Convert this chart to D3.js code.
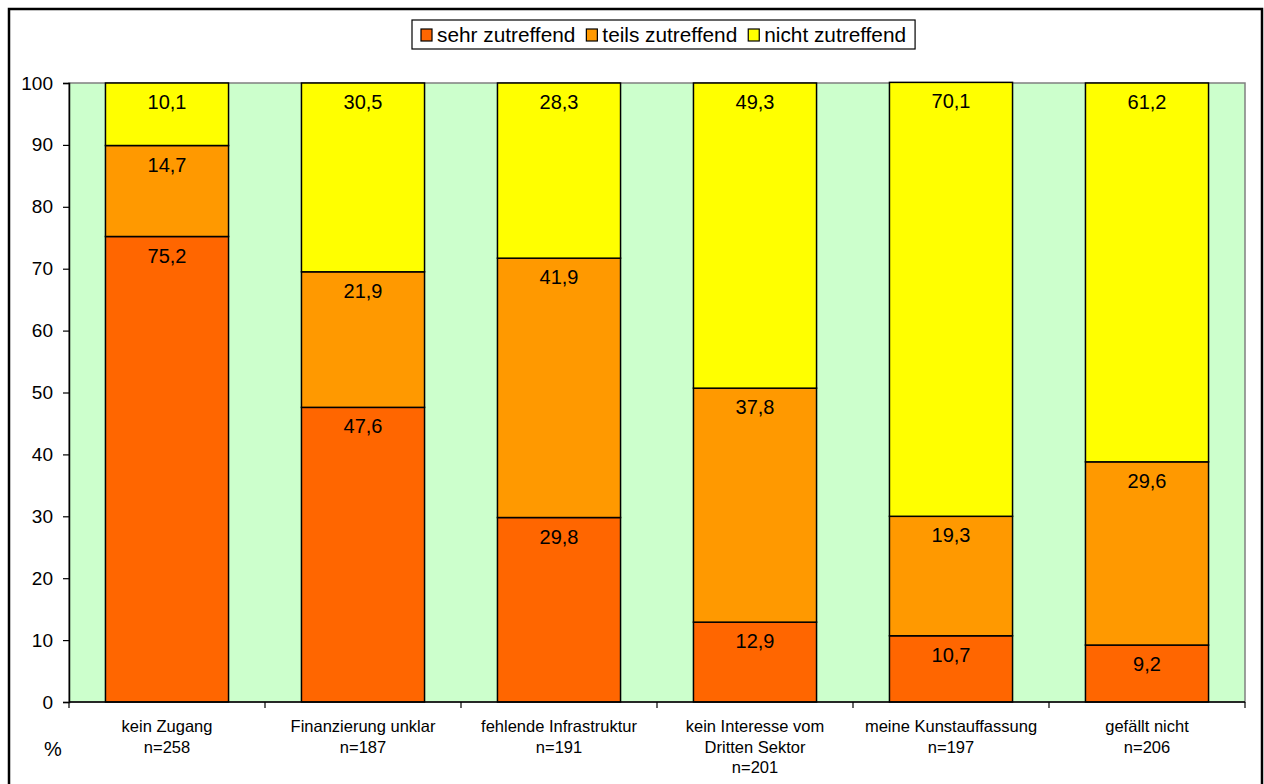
<!DOCTYPE html>
<html>
<head>
<meta charset="utf-8">
<script src="https://cdn.jsdelivr.net/npm/d3@7"></script>
<style>
  html, body { margin: 0; padding: 0; background: #fff; }
  svg { display: block; font-family: Arial, "Liberation Sans", sans-serif; }
</style>
</head>
<body>
<svg id="chart" width="1264" height="784"></svg>
<script>
// Reasons for not working with the third sector, share of answers in percent
const categories = [
  ["kein Zugang", "n=258"],
  ["Finanzierung unklar", "n=187"],
  ["fehlende Infrastruktur", "n=191"],
  ["kein Interesse vom", "Dritten Sektor", "n=201"],
  ["meine Kunstauffassung", "n=197"],
  ["gefällt nicht", "n=206"]
];
const seriesNames = ["sehr zutreffend", "teils zutreffend", "nicht zutreffend"];
const sehrZutreffend  = [75.2, 47.6, 29.8, 12.9, 10.7, 9.2];
const teilsZutreffend = [14.7, 21.9, 41.9, 37.8, 19.3, 29.6];
const nichtZutreffend = [10.1, 30.5, 28.3, 49.3, 70.1, 61.2];
const yTicks = [0, 10, 20, 30, 40, 50, 60, 70, 80, 90, 100];
const colors = ["#FF6600", "#FF9900", "#FFFF00"];

const svg = d3.select("#chart");
const plot = { left: 69, right: 1245, top: 83, bottom: 702 };

// outer chart frame
svg.append("rect")
  .attr("x", 9).attr("y", 9).attr("width", 1253).attr("height", 800)
  .attr("fill", "#fff").attr("stroke", "#000").attr("stroke-width", 2.5);

const x = d3.scaleBand()
  .domain(d3.range(categories.length))
  .range([plot.left, plot.right])
  .paddingInner(0.372)
  .paddingOuter(0.186);
const y = d3.scaleLinear().domain([0, 100]).range([plot.bottom, plot.top]);

// plot area
svg.append("rect")
  .attr("x", plot.left).attr("y", plot.top)
  .attr("width", plot.right - plot.left).attr("height", plot.bottom - plot.top)
  .attr("fill", "#CCFFCC").attr("stroke", "#808080").attr("stroke-width", 1.5);

// stacked data
const rows = categories.map((c, i) => ({
  i,
  [seriesNames[0]]: sehrZutreffend[i],
  [seriesNames[1]]: teilsZutreffend[i],
  [seriesNames[2]]: nichtZutreffend[i]
}));
const stacked = d3.stack().keys(seriesNames)(rows);

const layers = svg.append("g").selectAll("g")
  .data(stacked).join("g")
  .attr("fill", (d, k) => colors[k]);

layers.selectAll("rect")
  .data(d => d).join("rect")
  .attr("x", d => x(d.data.i))
  .attr("width", x.bandwidth())
  .attr("y", d => y(d[1]))
  .attr("height", d => y(d[0]) - y(d[1]))
  .attr("stroke", "#000").attr("stroke-width", 1.5);

// value labels near the top of each segment
const fmt = v => d3.format(".1f")(v).replace(".", ",");
stacked.forEach((layer, k) => {
  svg.append("g").selectAll("text")
    .data(layer).join("text")
    .attr("x", d => x(d.data.i) + x.bandwidth() / 2)
    .attr("y", d => y(d[1]) + 26)
    .attr("text-anchor", "middle")
    .attr("font-size", 20)
    .attr("fill", "#000")
    .text(d => fmt(d.data[seriesNames[k]]));
});

// y axis
const yAxis = svg.append("g")
  .attr("transform", `translate(${plot.left},0)`)
  .call(d3.axisLeft(y).tickValues(yTicks).tickSize(6).tickPadding(10).tickFormat(d3.format("d")));
yAxis.select(".domain").attr("stroke", "#000").attr("stroke-width", 1.5);
yAxis.selectAll(".tick line").attr("stroke", "#000").attr("stroke-width", 1.2);
yAxis.selectAll(".tick text").attr("font-size", 19).attr("font-family", "Arial, 'Liberation Sans', sans-serif").attr("fill", "#000");

// x axis: baseline with tick marks between categories
const xAxis = svg.append("g");
xAxis.append("line")
  .attr("x1", plot.left).attr("x2", plot.right)
  .attr("y1", plot.bottom).attr("y2", plot.bottom)
  .attr("stroke", "#000").attr("stroke-width", 1.5);
const boundaries = d3.range(categories.length + 1).map(i => plot.left + i * x.step());
xAxis.selectAll("line.tk").data(boundaries).join("line")
  .attr("class", "tk")
  .attr("x1", d => d).attr("x2", d => d)
  .attr("y1", plot.bottom).attr("y2", plot.bottom + 6)
  .attr("stroke", "#000").attr("stroke-width", 1.2);

// category labels
const catLabels = svg.append("g").selectAll("text")
  .data(categories).join("text")
  .attr("text-anchor", "middle")
  .attr("font-size", 16.5)
  .attr("fill", "#000")
  .attr("transform", (d, i) => `translate(${x(i) + x.bandwidth() / 2},${plot.bottom + 30})`);
catLabels.selectAll("tspan")
  .data(d => d).join("tspan")
  .attr("x", 0)
  .attr("y", (d, j) => j * 20.5)
  .text(d => d);

// unit label
svg.append("text")
  .attr("x", 53).attr("y", 756)
  .attr("text-anchor", "middle")
  .attr("font-size", 20)
  .text("%");

// legend
const legend = svg.append("g");
const legendBox = legend.append("rect")
  .attr("y", 20).attr("height", 29)
  .attr("fill", "#fff").attr("stroke", "#000").attr("stroke-width", 1.2);
let lx = 421;
seriesNames.forEach((name, k) => {
  legend.append("rect")
    .attr("x", lx).attr("y", 29).attr("width", 11).attr("height", 12)
    .attr("fill", colors[k]).attr("stroke", "#000").attr("stroke-width", 1.2);
  const t = legend.append("text")
    .attr("x", lx + 16).attr("y", 42)
    .attr("font-size", 20.8)
    .text(name);
  lx += 16 + t.node().getComputedTextLength() + 11;
});
const legendRight = lx - 11 + 9;
legendBox.attr("x", 412).attr("width", legendRight - 412);
</script>
</body>
</html>
